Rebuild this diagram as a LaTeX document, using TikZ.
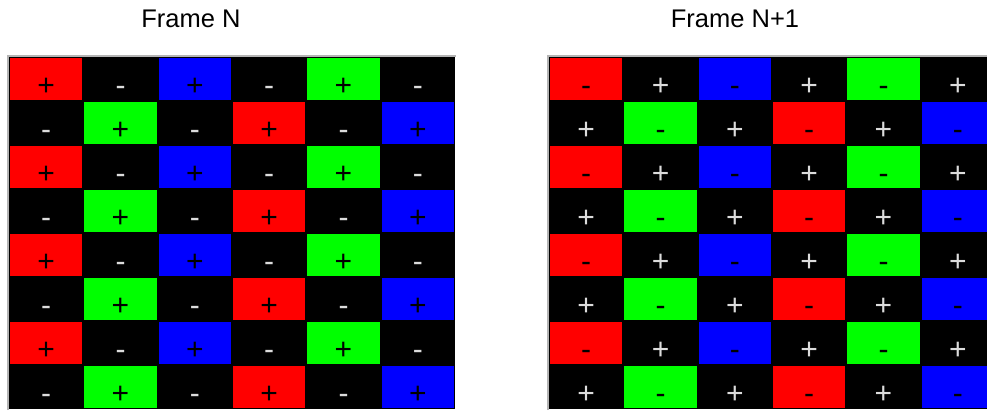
\documentclass[tikz,border=0pt]{standalone}
\usepackage{fontspec}
\setmainfont{Liberation Sans}
\definecolor{pxred}{HTML}{FF0000}
\definecolor{pxgreen}{HTML}{00FF00}
\definecolor{pxblue}{HTML}{0000FF}
\definecolor{edgegray}{HTML}{B4B4B4}
\definecolor{lightsym}{HTML}{DCDCDC}
\begin{document}
\begin{tikzpicture}[x=1pt,y=-1pt,
  title/.style={anchor=base,inner sep=0pt,font=\fontsize{25.5}{30}\selectfont},
  sym/.style={anchor=base,inner sep=0pt,font=\fontsize{30}{34}\selectfont},
  gridedge/.style={draw=edgegray,line width=2pt}]
\useasboundingbox (0,0) rectangle (987,410);
\clip (0,0) rectangle (987,410);
\def\blk{black}
\node[title] (tN) at (191,27) {Frame N};
\node[title] (tN1) at (735,27) {Frame N+1};
\foreach \g/\ox/\sgn in {L/9/0, R/549/1} {
  \fill[black] (\ox,57) rectangle (\ox+446,409);
  \draw[gridedge] (\ox-1,410) -- (\ox-1,56) -- (\ox+447,56);
  \foreach \r in {0,...,7} {
    \foreach \c/\ce/\co in {0/pxred/black, 1/black/pxgreen, 2/pxblue/black, 3/black/pxred, 4/pxgreen/black, 5/black/pxblue} {
      \ifodd\r \edef\cc{\co}\else\edef\cc{\ce}\fi
      \ifx\cc\blk
        \ifnum\sgn=0 \def\sym{-}\else\def\sym{+}\fi
        \def\symcol{lightsym}
      \else
        \fill[\cc] (\ox+\c*74.33+1,57+\r*44+1) rectangle ++(72.33,42);
        \ifnum\sgn=0 \def\sym{+}\else\def\sym{-}\fi
        \def\symcol{black}
      \fi
      \node[sym,text=\symcol] (\g-\r-\c) at (\ox+\c*74.33+37.17,57+\r*44+38) {\sym};
    }
  }
}
\end{tikzpicture}
\end{document}
